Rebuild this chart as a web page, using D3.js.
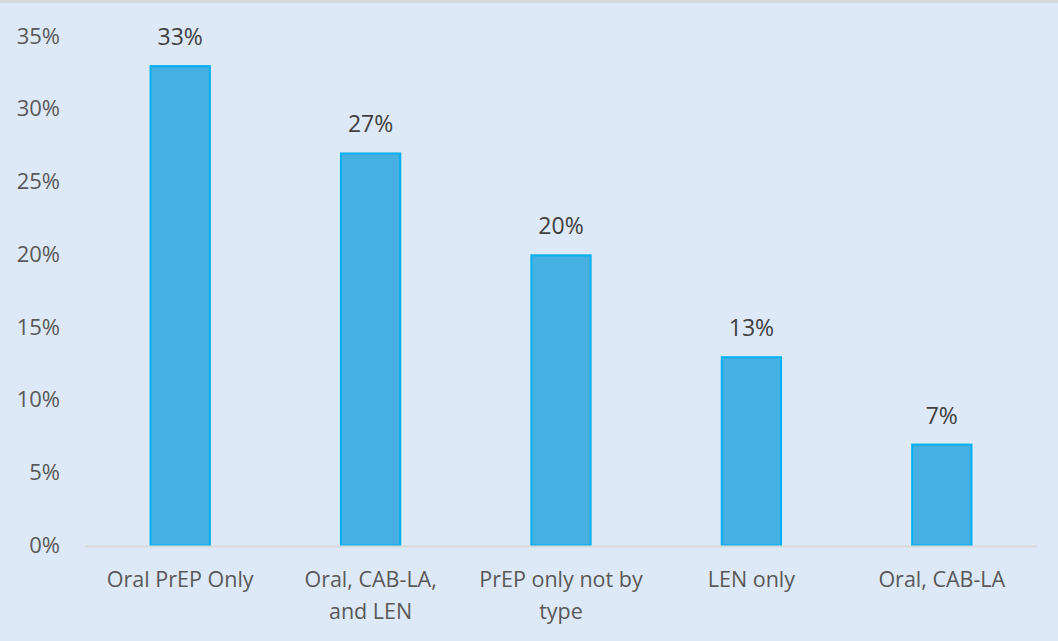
<!DOCTYPE html>
<html>
<head>
<meta charset="utf-8">
<script src="https://cdn.jsdelivr.net/npm/d3@7"></script>
<style>
  body { margin: 0; background: #dde9f6; }
  svg { display: block; font-family: "Open Sans", sans-serif; }
</style>
</head>
<body>
<div id="chart"></div>
<script>
// Data
var categories = [["Oral PrEP Only"], ["Oral, CAB-LA,", "and LEN"], ["PrEP only not by", "type"], ["LEN only"], ["Oral, CAB-LA"]];
var values = [33, 27, 20, 13, 7];
var yTicks = [0, 5, 10, 15, 20, 25, 30, 35];

var width = 1058, height = 641;
var margin = { top: 36, right: 21, bottom: 96, left: 85 };

var svg = d3.select("#chart")
    .append("svg")
    .attr("width", width)
    .attr("height", height);

svg.append("rect").attr("width", width).attr("height", height).attr("fill", "#dde9f6");
// top border
svg.append("rect").attr("x", 0).attr("y", 0).attr("width", width).attr("height", 3).attr("fill", "#d6d9de");

var g = svg.append("g")
    .attr("transform", "translate(" + margin.left + "," + margin.top + ")");

var w = width - margin.left - margin.right,
    h = height - margin.top - margin.bottom;

var x = d3.scaleBand()
    .domain(d3.range(categories.length))
    .range([0, w])
    .paddingInner(0.678)
    .paddingOuter(0.339);

var y = d3.scaleLinear()
    .domain([0, 35])
    .range([h + 0.5, 0]);

// y axis labels
var yAxis = g.append("g")
    .call(d3.axisLeft(y).tickValues(yTicks).tickFormat(function (d) { return d + "%"; }).tickSize(0).tickPadding(25));
yAxis.select(".domain").remove();
yAxis.selectAll("text")
    .attr("font-size", 22)
    .attr("font-family", "'Open Sans', sans-serif")
    .attr("fill", "#595959");

// bars
g.selectAll(".bar")
    .data(values)
    .enter().append("rect")
    .attr("class", "bar")
    .attr("x", function (d, i) { return x(i) + 1; })
    .attr("y", function (d) { return y(d) + 1; })
    .attr("width", x.bandwidth() - 2)
    .attr("height", function (d) { return y(0) - y(d) - 1; })
    .attr("fill", "#45b0e1")
    .attr("stroke", "#00b0f0")
    .attr("stroke-width", 2);

// baseline
g.append("line")
    .attr("x1", 0).attr("x2", w)
    .attr("y1", y(0) + 1).attr("y2", y(0) + 1)
    .attr("stroke", "#d9d9d9")
    .attr("stroke-width", 2);

// value labels
g.selectAll(".val")
    .data(values)
    .enter().append("text")
    .attr("class", "val")
    .attr("x", function (d, i) { return x(i) + x.bandwidth() / 2; })
    .attr("y", function (d) { return y(d) - 20; })
    .attr("text-anchor", "middle")
    .attr("font-size", 23)
    .attr("fill", "#404040")
    .text(function (d) { return d + "%"; });

// category labels
var cat = g.selectAll(".cat")
    .data(categories)
    .enter().append("text")
    .attr("class", "cat")
    .attr("x", function (d, i) { return x(i) + x.bandwidth() / 2; })
    .attr("y", h + 42)
    .attr("text-anchor", "middle")
    .attr("font-size", 21.5)
    .attr("fill", "#595959");

cat.selectAll("tspan")
    .data(function (d) { return d; })
    .enter().append("tspan")
    .attr("x", function () { return d3.select(this.parentNode).attr("x"); })
    .attr("dy", function (d, i) { return i === 0 ? 0 : 32; })
    .text(function (d) { return d; });
</script>
</body>
</html>
